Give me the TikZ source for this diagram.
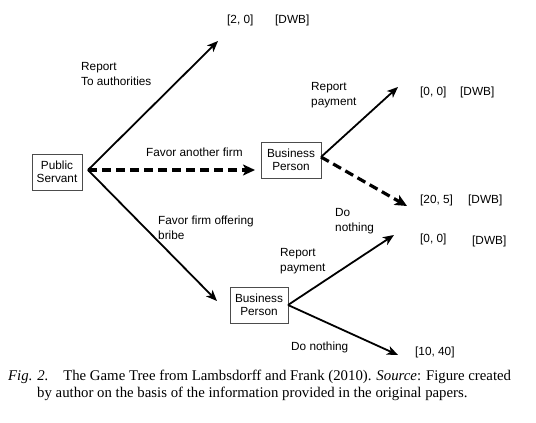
\documentclass[tikz,border=0pt]{standalone}
\usepackage{fontspec}
\setmainfont{Liberation Sans}
\newfontfamily\capfont{Liberation Serif}
\usetikzlibrary{arrows.meta}
\begin{document}
\begin{tikzpicture}[x=1pt,y=-1pt,
  player/.style={draw=black!70,line width=0.6pt,align=center,inner sep=1pt,font=\fontsize{11.8}{13.5}\selectfont,minimum height=36pt},
  lbl/.style={align=left,anchor=west,inner sep=0pt,font=\fontsize{11.8}{15.5}\selectfont},
  pay/.style={anchor=west,inner sep=0pt,font=\fontsize{11.8}{13}\selectfont},
  move/.style={line width=1.8pt,-{Stealth[length=11pt,width=9pt,inset=3pt]}},
  dmove/.style={line width=3.2pt,dash pattern=on 9pt off 5pt,-{Stealth[length=12pt,width=11pt,inset=3pt]}}]
\useasboundingbox (0,0) rectangle (536,423);
% players
\node[player,minimum width=50pt] (ps) at (57,172) {Public\\Servant};
\node[player,minimum width=60pt] (bp1) at (291,160) {Business\\Person};
\node[player,minimum width=58pt] (bp2) at (259,305) {Business\\Person};
\coordinate (o) at (88,170);
\coordinate (b1) at (321,157);
\coordinate (b2) at (288,305);
% tips
\coordinate (t1) at (218,41);
\coordinate (t2) at (255,170);
\coordinate (t3) at (217,301);
\coordinate (t4) at (398,87);
\coordinate (t5) at (407,206);
\coordinate (t6) at (394,235);
\coordinate (t7) at (398,355);
% payoffs
\node[pay] (p1) at (227,20) {[2, 0]};
\node[pay] (p1d) at (275,20) {[DWB]};
\node[pay] (p2) at (420,92) {[0, 0]};
\node[pay] (p2d) at (460,92) {[DWB]};
\node[pay] (p3) at (420,200) {[20, 5]};
\node[pay] (p3d) at (468,200) {[DWB]};
\node[pay] (p4) at (420,239) {[0, 0]};
\node[pay] (p4d) at (472,241) {[DWB]};
\node[pay] (p5) at (415,352) {[10, 40]};
% moves
\draw[move] (o) -- (t1);
\draw[dmove] (o) -- (t2);
\draw[move] (o) -- (t3);
\draw[move] (b1) -- (t4);
\draw[dmove] (b1) -- (t5);
\draw[move] (b2) -- (t6);
\draw[move] (b2) -- (t7);
% labels
\node[lbl] (l1) at (81,74) {Report\\To authorities};
\node[lbl] (l2) at (146,152) {Favor another firm};
\node[lbl] (l3) at (158,228) {Favor firm offering\\bribe};
\node[lbl] (l4) at (311,95) {Report\\payment};
\node[lbl] (l5) at (335,221) {Do\\nothing};
\node[lbl] (l6) at (280,261) {Report\\payment};
\node[lbl] (l7) at (291,347) {Do nothing};
% caption
\node[anchor=north west,inner sep=0pt,align=left,font=\capfont\fontsize{14.8}{16.5}\selectfont] (cap) at (8,370)
 {\textit{Fig. 2.}\quad The Game Tree from Lambsdorff and Frank (2010). \textit{Source}: Figure created\\
 \hspace*{29pt}by author on the basis of the information provided in the original papers.};
\end{tikzpicture}
\end{document}
